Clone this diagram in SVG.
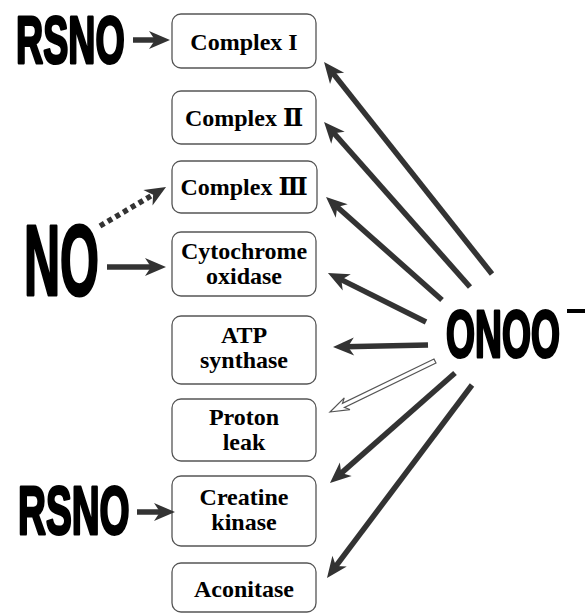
<svg xmlns="http://www.w3.org/2000/svg" width="586" height="614" viewBox="0 0 586 614">
<style>
.box{fill:#fff;stroke:#555;stroke-width:1.3}
.t{font-family:"Liberation Serif","DejaVu Serif","Noto Sans CJK SC",serif;font-weight:bold;font-size:24px;text-anchor:middle;fill:#000}
.big{font-family:"Liberation Sans","DejaVu Sans",sans-serif;font-weight:bold;fill:#000;stroke:#000;stroke-width:3;stroke-linejoin:round}
.ar{stroke:#333;stroke-width:5.5;fill:none;marker-end:url(#ah)}
</style>
<defs>
<marker id="ah" markerUnits="userSpaceOnUse" viewBox="-10 -10 24 20" refX="0" refY="0" markerWidth="24" markerHeight="20" orient="auto">
<path d="M12,0 L-9,-9 L-3,0 L-9,9 Z" fill="#333"/>
</marker>
</defs>
<g id="complex1"><rect class="box" x="172" y="14" width="144" height="54" rx="9"/><text class="t" x="244" y="50">Complex I</text></g>
<g id="complex2"><rect class="box" x="172" y="91" width="144" height="53" rx="9"/><text class="t" x="244" y="126">Complex Ⅱ</text></g>
<g id="complex3"><rect class="box" x="172" y="161" width="145" height="52" rx="9"/><text class="t" x="244" y="195">Complex Ⅲ</text></g>
<g id="cytox"><rect class="box" x="172" y="232" width="144" height="64" rx="9"/><text class="t" x="244" y="259">Cytochrome</text><text class="t" x="244" y="284">oxidase</text></g>
<g id="atp"><rect class="box" x="172" y="316" width="144" height="68" rx="9"/><text class="t" x="244" y="343">ATP</text><text class="t" x="244" y="368">synthase</text></g>
<g id="proton"><rect class="box" x="172" y="399" width="144" height="62" rx="9"/><text class="t" x="244" y="425">Proton</text><text class="t" x="244" y="450">leak</text></g>
<g id="ck"><rect class="box" x="172" y="476" width="144" height="70" rx="9"/><text class="t" x="244" y="505">Creatine</text><text class="t" x="244" y="530">kinase</text></g>
<g id="aconitase"><rect class="box" x="172" y="563" width="144" height="49" rx="9"/><text class="t" x="244" y="597">Aconitase</text></g>
<g id="rsno1"><text class="big" transform="translate(16,63) scale(0.57,1)" font-size="66">RSNO</text></g>
<g id="no"><text class="big" transform="translate(24,295) scale(0.5,1)" font-size="100">NO</text></g>
<g id="rsno2"><text class="big" transform="translate(18,534) scale(0.56,1)" font-size="69">RSNO</text></g>
<g id="onoo"><text class="big" transform="translate(446,357) scale(0.565,1)" font-size="66">ONOO</text><rect x="567" y="309" width="18" height="4" fill="#000"/></g>
<g id="connectors">
<line class="ar" x1="133" y1="40" x2="158" y2="40"/>
<line class="ar" x1="107" y1="267" x2="154" y2="267"/>
<line class="ar" x1="100" y1="226" x2="155.7" y2="193.1" stroke-dasharray="5,4"/>
<line class="ar" x1="137" y1="512" x2="163" y2="512"/>
<line class="ar" x1="492" y1="274" x2="331.5" y2="71.4"/>
<line class="ar" x1="470" y1="287" x2="332" y2="131"/>
<line class="ar" x1="442" y1="300" x2="335" y2="205"/>
<line class="ar" x1="426" y1="322" x2="338.7" y2="278.4"/>
<line class="ar" x1="428" y1="345" x2="345" y2="346.8"/>
<line class="ar" x1="455" y1="373" x2="339" y2="475.1"/>
<line class="ar" x1="472" y1="385" x2="334.2" y2="568.4"/>
<g transform="translate(330,412) rotate(154.1)"><path d="M0,0 L-19,-6.5 L-15,-2.3 L-116.7,-2.3 L-116.7,2.3 L-15,2.3 L-19,6.5 Z" fill="#fff" stroke="#555" stroke-width="1.2" stroke-linejoin="miter"/></g>
</g>
</svg>
